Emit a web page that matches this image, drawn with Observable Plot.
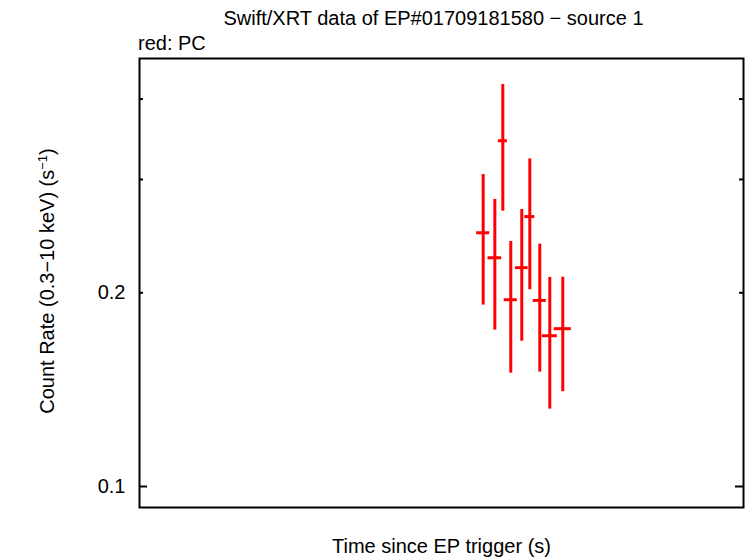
<!DOCTYPE html>
<html>
<head>
<meta charset="utf-8">
<script src="https://cdn.jsdelivr.net/npm/d3@7"></script>
<script src="https://cdn.jsdelivr.net/npm/@observablehq/plot@0.6"></script>
<style>
  html, body { margin: 0; padding: 0; background: #fff; }
  #wrap { position: relative; width: 746px; height: 558px; font-family: "Liberation Sans", Arial, Helvetica, sans-serif; color: #000; }
  .lbl { position: absolute; font-size: 20px; white-space: nowrap; line-height: 1; }
</style>
</head>
<body>
<div id="wrap">
  <div id="chart"></div>
  <div class="lbl" style="left:0;width:867px;top:8px;text-align:center;font-size:20px;">Swift/XRT data of EP#01709181580 − source 1</div>
  <div class="lbl" style="left:138px;top:33px;">red: PC</div>
  <div class="lbl" style="left:0;width:883px;top:536px;text-align:center;">Time since EP trigger (s)</div>
  <div class="lbl" style="left:46px;top:281px;transform:translate(-50%,-50%) rotate(-90deg);">Count Rate (0.3−10 keV) (s<sup style="font-size:13px;vertical-align:7px;">−1</sup>)</div>
</div>
<script>
// Data
const times      = [56.90, 58.83, 60.15, 61.47, 63.29, 64.62, 66.27, 67.93, 70.08];
const halfWidths = [1.08, 1.13, 0.75, 1.08, 1.05, 0.83, 1.08, 1.24, 1.41];
const rates      = [0.2479, 0.2267, 0.3446, 0.1951, 0.2188, 0.2627, 0.1946, 0.1715, 0.1759];
const ratesLow   = [0.1914, 0.1750, 0.2678, 0.1500, 0.1682, 0.2022, 0.1506, 0.1319, 0.1404];
const ratesHigh  = [0.3053, 0.2793, 0.4213, 0.2403, 0.2694, 0.3229, 0.2380, 0.2113, 0.2115];
const yTickLabels = [0.1, 0.2];
const yMajorTicks = [0.1];
const yMinorTicks = [0.2, 0.3, 0.4];

const data = times.map((t, i) => ({t, hw: halfWidths[i], r: rates[i], lo: ratesLow[i], hi: ratesHigh[i]}));

const W = 746, H = 558;
const mL = 139, mR = 3, mT = 58, mB = 51;
const pw = W - mL - mR;
const red = "#ff0000";

const chart = Plot.plot({
  width: W,
  height: H,
  marginLeft: mL,
  marginRight: mR,
  marginTop: mT,
  marginBottom: mB,
  style: {fontFamily: '"Liberation Sans", Arial, Helvetica, sans-serif', fontSize: "20px", color: "#000", background: "#fff"},
  x: {domain: [0, 100], axis: null},
  y: {type: "log", domain: [0.09276, 0.4625], axis: null},
  marks: [
    Plot.axisY(yTickLabels, {anchor: "left", tickSize: 0, tickPadding: 14, tickFormat: d => String(d), label: null, fontSize: 20}),
    Plot.tickY(yMajorTicks, {y: d => d, insetRight: pw - 8, stroke: "#000", strokeWidth: 2}),
    Plot.tickY(yMinorTicks, {y: d => d, insetRight: pw - 4, stroke: "#000", strokeWidth: 2}),
    Plot.tickY(yMajorTicks, {y: d => d, insetLeft: pw - 8, stroke: "#000", strokeWidth: 2}),
    Plot.tickY(yMinorTicks, {y: d => d, insetLeft: pw - 4, stroke: "#000", strokeWidth: 2}),
    Plot.ruleX(data, {x: "t", y1: "lo", y2: "hi", stroke: red, strokeWidth: 3}),
    Plot.ruleY(data, {y: "r", x1: d => d.t - d.hw, x2: d => d.t + d.hw, stroke: red, strokeWidth: 3}),
    Plot.frame({stroke: "#000", strokeWidth: 2})
  ]
});
document.getElementById("chart").appendChild(chart);
</script>
</body>
</html>
